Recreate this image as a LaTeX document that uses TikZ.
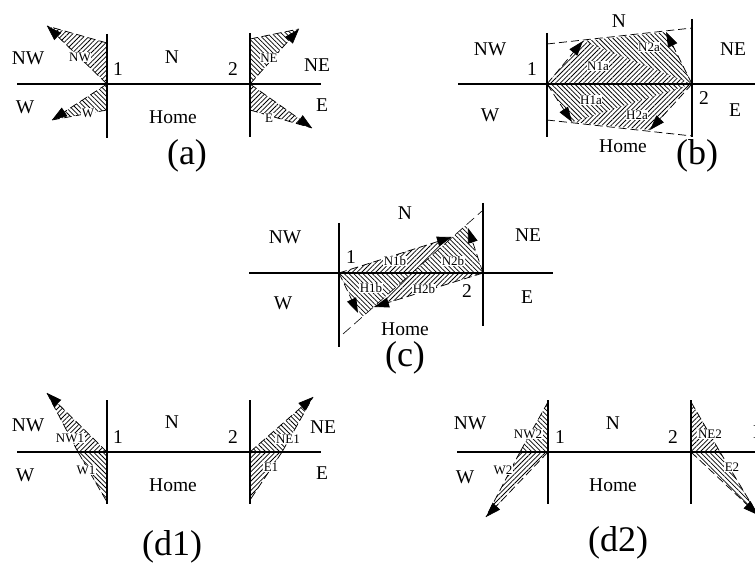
\documentclass[tikz,border=0pt]{standalone}
\usepackage{fontspec}
\setmainfont{Liberation Serif}
\usetikzlibrary{arrows.meta,patterns.meta}
\begin{document}
\begin{tikzpicture}[x=1pt,y=-1pt,
  axis/.style={line width=1.2pt},
  big/.style={font=\fontsize{19.5}{20}\selectfont, inner sep=0pt},
  small/.style={font=\fontsize{13}{13}\selectfont, inner sep=0.6pt, fill=white},
  captxt/.style={font=\fontsize{36}{36}\selectfont, inner sep=0pt},
  hne/.style={pattern={Lines[angle=45,distance=3.3pt,line width=0.75pt]}},
  hnw/.style={pattern={Lines[angle=-45,distance=3.3pt,line width=0.75pt]}},
  dashedge/.style={dash pattern=on 8pt off 4pt, line width=0.75pt},
  arr/.style={dashedge, -{Triangle[length=15pt,width=10pt]}},
]
\useasboundingbox (0,0) rectangle (755,564);
\clip (0,0) rectangle (755,564);

% ================= panel (a)
\coordinate (a1) at (107,84); \coordinate (a2) at (250,84);
\coordinate (aL) at (17,84); \coordinate (aR) at (321,84);
\coordinate (a1t) at (107,34); \coordinate (a1b) at (107,138);
\coordinate (a2t) at (250,33); \coordinate (a2b) at (250,137);
\coordinate (aNWv) at (107,43); \coordinate (aNWt) at (47,26);
\coordinate (aWv) at (107,110); \coordinate (aWt) at (52,120);
\coordinate (aNEv) at (250,39); \coordinate (aNEt) at (299,29);
\coordinate (aEv) at (250,110); \coordinate (aEt) at (312,128);
\fill[hne] (a1) -- (aNWv) -- (aNWt) -- cycle;
\fill[hnw] (a1) -- (aWv) -- (aWt) -- cycle;
\fill[hnw] (a2) -- (aNEv) -- (aNEt) -- cycle;
\fill[hne] (a2) -- (aEv) -- (aEt) -- cycle;
\draw[dashedge] (aNWv) -- (aNWt); \draw[arr] (a1) -- (aNWt);
\draw[dashedge] (aWv) -- (aWt); \draw[arr] (a1) -- (aWt);
\draw[dashedge] (aNEv) -- (aNEt); \draw[arr] (a2) -- (aNEt);
\draw[dashedge] (aEv) -- (aEt); \draw[arr] (a2) -- (aEt);
\draw[axis] (aL) -- (aR);
\draw[axis] (a1t) -- (a1b);
\draw[axis] (a2t) -- (a2b);
\node[big] (aNWl) at (28,58) {NW};
\node[big] (aNl) at (172,57) {N};
\node[big] (aNEl) at (317,65) {NE};
\node[big] (aWl) at (25,107) {W};
\node[big] (aHl) at (173,117) {Home};
\node[big] (aEl) at (322,105) {E};
\node[big] (a1l) at (118,69) {1};
\node[big] (a2l) at (233,69) {2};
\node[small] (aNWs) at (80,57) {NW};
\node[small] (aWs) at (88,113) {W};
\node[small] (aNEs) at (269,58) {NE};
\node[small] (aEs) at (269,118) {E};
\node[captxt] (acap) at (187,156) {(a)};

% ================= panel (b)
\coordinate (b1) at (547,84); \coordinate (b2) at (692,84);
\coordinate (bL) at (458,84); \coordinate (bR) at (755,84);
\coordinate (b1t) at (547,33); \coordinate (b1b) at (547,137);
\coordinate (b2t) at (692,19); \coordinate (b2b) at (692,137);
\coordinate (bTl) at (547,44); \coordinate (bTr) at (692,28);
\coordinate (bBl) at (547,120); \coordinate (bBr) at (692,136);
\coordinate (bN1) at (583,41); \coordinate (bN2) at (666,32);
\coordinate (bH1) at (572,122); \coordinate (bH2) at (650,130);
\fill[hne] (b1) -- (bN1) -- (b2) -- cycle;
\fill[hnw] (bN1) -- (bN2) -- (b2) -- cycle;
\fill[hnw] (b1) -- (bH1) -- (b2) -- cycle;
\fill[hne] (bH1) -- (bH2) -- (b2) -- cycle;
\draw[dashedge] (bTl) -- (bTr);
\draw[dashedge] (bBl) -- (bBr);
\draw[arr] (b1) -- (bN1);
\draw[arr] (b2) -- (bN2);
\draw[arr] (b1) -- (bH1);
\draw[arr] (b2) -- (bH2);
\draw[axis] (bL) -- (bR);
\draw[axis] (b1t) -- (b1b);
\draw[axis] (b2t) -- (b2b);
\node[big] (bNl) at (619,21) {N};
\node[big] (bNWl) at (490,49) {NW};
\node[big] (bNEl) at (733,49) {NE};
\node[big] (b1l) at (532,69) {1};
\node[big] (bWl) at (490,115) {W};
\node[big] (b2l) at (704,98) {2};
\node[big] (bEl) at (735,110) {E};
\node[big] (bHl) at (623,146) {Home};
\node[small] (bN1s) at (598,66) {N1a};
\node[small] (bN2s) at (649,47) {N2a};
\node[small] (bH1s) at (591,100) {H1a};
\node[small] (bH2s) at (637,115) {H2a};
\node[captxt] (bcap) at (697,156) {(b)};

% ================= panel (c)
\coordinate (c1) at (339,273); \coordinate (c2) at (483,273);
\coordinate (cL) at (249,273); \coordinate (cR) at (553,273);
\coordinate (c1t) at (339,223); \coordinate (c1b) at (339,347);
\coordinate (c2t) at (483,203); \coordinate (c2b) at (483,326);
\coordinate (cDb) at (343,334); \coordinate (cDt) at (482,211);
\coordinate (cX) at (412,273);
\coordinate (cN1) at (452,237); \coordinate (cN2) at (468,228);
\coordinate (cN2c) at (466,225);
\coordinate (cH1) at (358,313); \coordinate (cH1c) at (362,317);
\coordinate (cH2) at (374,307);
\fill[hne] (c1) -- (cN1) -- (cX) -- cycle;
\fill[hnw] (cX) -- (cN2c) -- (c2) -- cycle;
\fill[hnw] (c1) -- (cX) -- (cH1c) -- cycle;
\fill[hne] (cX) -- (c2) -- (cH2) -- cycle;
\draw[dash pattern=on 10pt off 5pt, line width=0.6pt] (cDb) -- (cDt);
\draw[arr] (c1) -- (cN1);
\draw[arr] (c2) -- (cN2);
\draw[arr] (c1) -- (cH1);
\draw[arr] (c2) -- (cH2);
\draw[axis] (cL) -- (cR);
\draw[axis] (c1t) -- (c1b);
\draw[axis] (c2t) -- (c2b);
\node[big] (cNl) at (405,213) {N};
\node[big] (cNWl) at (285,237) {NW};
\node[big] (cNEl) at (528,235) {NE};
\node[big] (cWl) at (283,303) {W};
\node[big] (cEl) at (527,297) {E};
\node[big] (cHl) at (405,329) {Home};
\node[big] (c1l) at (351,257) {1};
\node[big] (c2l) at (467,291) {2};
\node[small] (cN1s) at (395,261) {N1b};
\node[small] (cN2s) at (453,261) {N2b};
\node[small] (cH1s) at (371,288) {H1b};
\node[small] (cH2s) at (424,289) {H2b};
\node[captxt] (ccap) at (405,358) {(c)};

% ================= panel (d1)
\coordinate (e1) at (107,452); \coordinate (e2) at (250,452);
\coordinate (eL) at (17,452); \coordinate (eR) at (321,452);
\coordinate (e1t) at (107,400); \coordinate (e1b) at (107,504);
\coordinate (e2t) at (250,400); \coordinate (e2b) at (250,504);
\coordinate (eNW) at (47,393); \coordinate (eH1) at (78,452); \coordinate (eWb) at (107,502);
\coordinate (eNE) at (313,397); \coordinate (eH2) at (282,452); \coordinate (eEb) at (250,500);
\fill[hne] (e1) -- (eNW) -- (eH1) -- cycle;
\fill[hnw] (e1) -- (eH1) -- (eWb) -- cycle;
\fill[hnw] (e2) -- (eNE) -- (eH2) -- cycle;
\fill[hne] (e2) -- (eH2) -- (eEb) -- cycle;
\draw[dashedge] (eH1) -- (eNW); \draw[arr] (e1) -- (eNW);
\draw[dashedge] (eH1) -- (eWb);
\draw[dashedge] (eH2) -- (eNE); \draw[arr] (e2) -- (eNE);
\draw[dashedge] (eH2) -- (eEb);
\draw[axis] (eL) -- (eR);
\draw[axis] (e1t) -- (e1b);
\draw[axis] (e2t) -- (e2b);
\node[big] (eNWl) at (28,425) {NW};
\node[big] (eNl) at (172,422) {N};
\node[big] (eNEl) at (323,427) {NE};
\node[big] (eWl) at (25,475) {W};
\node[big] (eHl) at (173,485) {Home};
\node[big] (eEl) at (322,473) {E};
\node[big] (e1l) at (118,437) {1};
\node[big] (e2l) at (233,437) {2};
\node[small] (eNWs) at (70,438) {NW1};
\node[small] (eWs) at (86,470) {W1};
\node[small] (eNEs) at (288,439) {NE1};
\node[small] (eEs) at (271,467) {E1};
\node[captxt] (ecap) at (172,547) {(d1)};

% ================= panel (d2)
\coordinate (f1) at (548,452); \coordinate (f2) at (691,452);
\coordinate (fL) at (457,452); \coordinate (fR) at (755,452);
\coordinate (f1t) at (548,400); \coordinate (f1b) at (548,504);
\coordinate (f2t) at (691,400); \coordinate (f2b) at (691,504);
\coordinate (fNWv) at (548,402); \coordinate (fH1) at (520,452); \coordinate (fWt) at (486,517);
\coordinate (fNEv) at (691,402); \coordinate (fH2) at (720,452); \coordinate (fEt) at (758,515);
\fill[hnw] (f1) -- (fNWv) -- (fH1) -- cycle;
\fill[hne] (f1) -- (fH1) -- (fWt) -- cycle;
\fill[hne] (f2) -- (fNEv) -- (fH2) -- cycle;
\fill[hnw] (f2) -- (fH2) -- (fEt) -- cycle;
\draw[dashedge] (fNWv) -- (fH1); \draw[dashedge] (fH1) -- (fWt); \draw[arr] (f1) -- (fWt);
\draw[dashedge] (fNEv) -- (fH2); \draw[dashedge] (fH2) -- (fEt); \draw[arr] (f2) -- (fEt);
\draw[axis] (fL) -- (fR);
\draw[axis] (f1t) -- (f1b);
\draw[axis] (f2t) -- (f2b);
\node[big] (fNWl) at (470,423) {NW};
\node[big] (fNl) at (613,423) {N};
\node[big] (fNEl) at (766,432) {NE};
\node[big] (fWl) at (465,477) {W};
\node[big] (fHl) at (613,485) {Home};
\node[big] (f1l) at (560,437) {1};
\node[big] (f2l) at (673,437) {2};
\node[small] (fNWs) at (528,434) {NW2};
\node[small] (fWs) at (503,470) {W2};
\node[small] (fNEs) at (710,434) {NE2};
\node[small] (fEs) at (732,467) {E2};
\node[captxt] (fcap) at (618,543) {(d2)};
\end{tikzpicture}
\end{document}
